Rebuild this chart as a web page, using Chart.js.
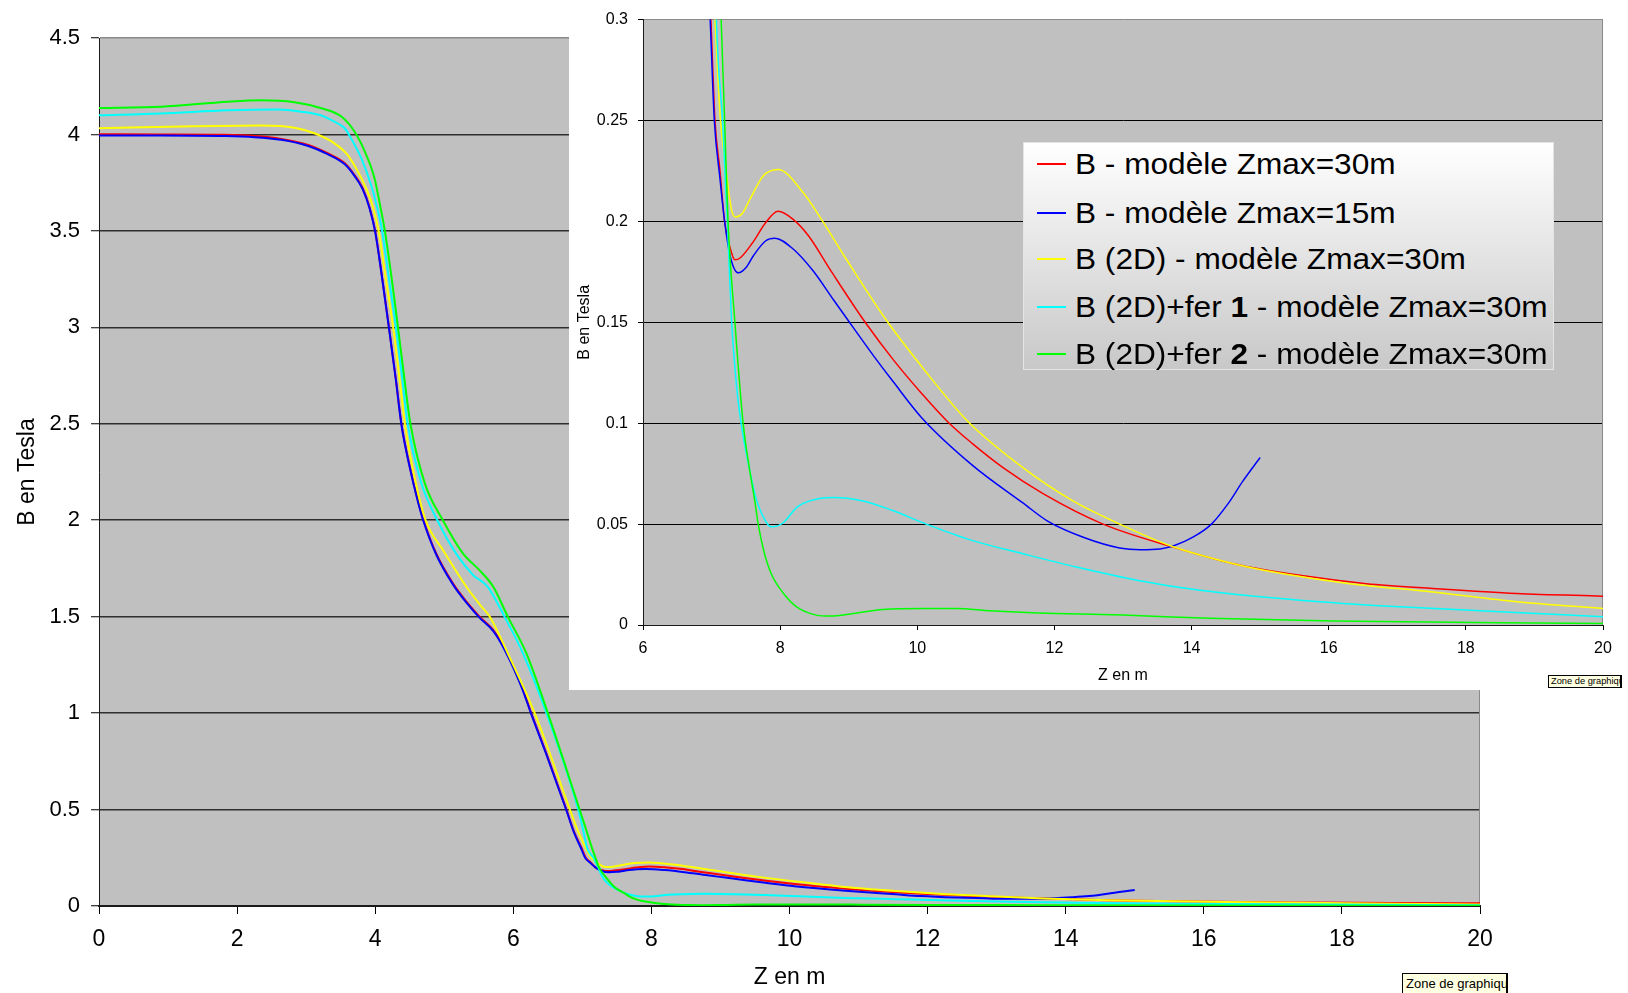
<!DOCTYPE html>
<html lang="fr">
<head>
<meta charset="UTF-8">
<title>B en Tesla</title>
<script src="https://cdn.jsdelivr.net/npm/chart.js@4.4.1/dist/chart.umd.min.js"></script>
<style>
  html, body { margin: 0; padding: 0; background: #fff; }
  body { width: 1628px; height: 993px; position: relative; overflow: hidden; font-family: "Liberation Sans", Arial, sans-serif; }
  #main { position: absolute; left: 0; top: 0; }
  #zoom { position: absolute; left: 569px; top: 0; background: #fff; }
  .legende { position: absolute; left: 1023px; top: 142px; width: 531px; height: 228px; box-sizing: border-box;
             background: linear-gradient(#ffffff, #c8c8c8); border: 1px solid #e4e4e4; }
  .legende .ligne { position: absolute; left: 0; width: 100%; height: 40px; }
  .legende .trait { position: absolute; left: 13px; top: 19px; width: 29px; height: 2px; }
  .legende .texte { position: absolute; left: 51px; top: 0; line-height: 40px; font-size: 29px; color: #000;
                    white-space: nowrap; transform: scaleX(1.09); transform-origin: left center; }
  .bulle { position: absolute; background: #ffffe1; border: 1px solid #000; border-right-width: 2px; color: #000;
           white-space: nowrap; overflow: hidden; box-sizing: border-box; }
</style>
</head>
<body>
<canvas id="main" width="1628" height="993"></canvas>
<canvas id="zoom" width="1059" height="690"></canvas>
<div class="legende" id="legende"></div>
<div class="bulle" style="left:1548px;top:675px;width:74px;height:13px;font-size:9.3px;line-height:11px;padding-left:2px;">Zone de graphique</div>
<div class="bulle" style="left:1402px;top:973px;width:106px;height:21px;font-size:13px;line-height:19px;padding-left:3px;">Zone de graphique</div>

<script>
// Z (m) / B (T) le long de l'axe
const redZ = [0, 0.9, 1.77, 2.25, 2.64, 3.03, 3.31, 3.56, 3.70, 3.82, 3.92, 4.00, 4.10, 4.20, 4.30, 4.38, 4.50, 4.62, 4.70, 4.88,
  5.13, 5.34, 5.51, 5.71, 5.88, 6.12, 6.26, 6.48, 6.77, 6.88, 6.99, 7.05, 7.12, 7.19, 7.27, 7.34, 7.42, 7.61, 7.78, 7.97,
  8.19, 8.41, 8.75, 9.24, 9.66, 10.07, 10.45, 10.80, 11.25, 11.84, 12.71, 13.73, 14.61, 15.58, 16.55, 17.52, 18.74, 20.00];
const redB = [4.001, 4.000, 3.998, 3.992, 3.977, 3.946, 3.903, 3.851, 3.790, 3.720, 3.620, 3.500, 3.260, 3.000, 2.730, 2.500, 2.280, 2.100, 2.000, 1.830,
  1.670, 1.570, 1.500, 1.430, 1.330, 1.140, 1.000, 0.790, 0.500, 0.385, 0.300, 0.250, 0.226, 0.200, 0.187, 0.181, 0.182, 0.190, 0.199, 0.205,
  0.201, 0.193, 0.175, 0.150, 0.131, 0.1145, 0.1005, 0.090, 0.078, 0.065, 0.050, 0.0386, 0.0304, 0.0246, 0.0205, 0.0181, 0.0156, 0.0143];

const blueZ = [0, 0.9, 1.77, 2.25, 2.64, 3.03, 3.31, 3.56, 3.70, 3.82, 3.92, 4.00, 4.10, 4.20, 4.30, 4.38, 4.50, 4.62, 4.70, 4.88,
  5.13, 5.34, 5.51, 5.71, 5.88, 6.12, 6.26, 6.48, 6.77, 6.88, 6.98, 7.04, 7.12, 7.19, 7.27, 7.39, 7.50, 7.61, 7.79, 7.92,
  8.19, 8.48, 8.75, 8.99, 9.36, 9.65, 10.07, 10.81, 11.54, 11.90, 12.42, 12.95, 13.25, 13.54, 13.75, 14.02, 14.29, 14.53, 14.75, 15.00];
const blueB = [3.995, 3.995, 3.992, 3.986, 3.972, 3.940, 3.898, 3.845, 3.785, 3.715, 3.615, 3.495, 3.255, 2.995, 2.725, 2.495, 2.275, 2.095, 1.995, 1.825,
  1.665, 1.565, 1.495, 1.425, 1.325, 1.135, 0.995, 0.785, 0.495, 0.380, 0.300, 0.250, 0.222, 0.200, 0.183, 0.1745, 0.177, 0.183, 0.1904, 0.1917,
  0.1863, 0.1755, 0.1625, 0.151, 0.1335, 0.1205, 0.1025, 0.079, 0.0605, 0.0515, 0.0435, 0.0382, 0.0373, 0.0377, 0.0394, 0.0435, 0.050, 0.060, 0.0714, 0.083];

const yellowZ = [0, 1.38, 2.35, 2.83, 3.12, 3.41, 3.60, 3.75, 3.89, 3.97, 4.05, 4.15, 4.26, 4.35, 4.43, 4.59, 4.73, 5.00, 5.32, 5.54,
  5.66, 5.92, 6.31, 6.82, 6.94, 7.05, 7.13, 7.21, 7.29, 7.35, 7.45, 7.56, 7.75, 7.97, 8.34, 8.63, 8.97, 9.55, 10.09, 10.72,
  11.54, 12.27, 12.90, 13.68, 14.61, 15.34, 16.31, 17.52, 18.74, 20.00];
const yellowB = [4.032, 4.043, 4.046, 4.035, 4.006, 3.954, 3.894, 3.807, 3.703, 3.620, 3.500, 3.260, 3.000, 2.740, 2.500, 2.190, 2.000, 1.835, 1.655, 1.552,
  1.500, 1.310, 1.000, 0.500, 0.385, 0.300, 0.250, 0.226, 0.206, 0.2022, 0.204, 0.211, 0.2224, 0.2257, 0.2141, 0.1995, 0.181, 0.151, 0.127, 0.1015,
  0.078, 0.0615, 0.0508, 0.0394, 0.0304, 0.0254, 0.0205, 0.0164, 0.0115, 0.0082];

const cyanZ = [0, 0.9, 1.87, 2.59, 2.93, 3.22, 3.41, 3.56, 3.65, 3.80, 3.94, 4.02, 4.10, 4.20, 4.30, 4.39, 4.47, 4.67, 4.90, 5.17,
  5.42, 5.63, 5.88, 6.14, 6.48, 6.94, 7.02, 7.07, 7.16, 7.23, 7.29, 7.36, 7.43, 7.56, 7.66, 7.80, 7.87, 7.95, 8.05, 8.24,
  8.43, 8.77, 9.21, 9.65, 10.13, 10.81, 11.54, 12.32, 13.20, 14.12, 15.58, 17.03, 18.49, 20.00];
const cyanB = [4.099, 4.108, 4.125, 4.129, 4.118, 4.098, 4.066, 4.032, 3.980, 3.876, 3.738, 3.634, 3.500, 3.250, 3.000, 2.740, 2.500, 2.190, 2.000, 1.828,
  1.715, 1.655, 1.495, 1.310, 1.000, 0.500, 0.380, 0.300, 0.250, 0.200, 0.152, 0.120, 0.100, 0.076, 0.0615, 0.0508, 0.0487, 0.0490, 0.0508, 0.0582,
  0.0615, 0.0632, 0.0615, 0.0566, 0.050, 0.0418, 0.0353, 0.0287, 0.0222, 0.0172, 0.0123, 0.0090, 0.0066, 0.0041];

const greenZ = [0, 0.9, 1.87, 2.35, 2.83, 3.22, 3.51, 3.70, 3.85, 3.99, 4.07, 4.14, 4.24, 4.33, 4.42, 4.51, 4.72, 4.98, 5.27, 5.51,
  5.71, 5.92, 6.19, 6.50, 6.96, 7.06, 7.14, 7.19, 7.24, 7.34, 7.46, 7.55, 7.63, 7.68, 7.76, 7.87, 8.05, 8.24, 8.53, 8.73,
  9.07, 9.50, 10.09, 10.57, 11.06, 12.03, 13.00, 14.27, 16.07, 18.49, 20.00];
const greenB = [4.137, 4.144, 4.170, 4.177, 4.167, 4.136, 4.093, 4.015, 3.911, 3.773, 3.634, 3.500, 3.250, 3.000, 2.740, 2.500, 2.190, 2.000, 1.828, 1.741,
  1.655, 1.500, 1.310, 1.000, 0.500, 0.390, 0.300, 0.250, 0.200, 0.150, 0.100, 0.078, 0.0615, 0.050, 0.0369, 0.0254, 0.0156, 0.0090, 0.0049, 0.0044,
  0.0057, 0.0077, 0.0082, 0.0082, 0.0071, 0.0057, 0.0049, 0.0033, 0.0020, 0.0011, 0.0008];

const legendLabels = [
  'B - modèle Zmax=30m',
  'B - modèle Zmax=15m',
  'B (2D) - modèle Zmax=30m',
  'B (2D)+fer <b>1</b> - modèle Zmax=30m',
  'B (2D)+fer <b>2</b> - modèle Zmax=30m'
];

// graduations
const mainZTicks = [0, 2, 4, 6, 8, 10, 12, 14, 16, 18, 20];
const mainBTicks = [0, 0.5, 1, 1.5, 2, 2.5, 3, 3.5, 4, 4.5];
const zoomZTicks = [6, 8, 10, 12, 14, 16, 18, 20];
const zoomBTicks = [0, 0.05, 0.1, 0.15, 0.2, 0.25, 0.3];

const series = [
  { z: redZ, b: redB, color: '#ff0000' },
  { z: blueZ, b: blueB, color: '#0000ff' },
  { z: yellowZ, b: yellowB, color: '#ffff00' },
  { z: cyanZ, b: cyanB, color: '#00ffff' },
  { z: greenZ, b: greenB, color: '#00ff00' }
];

Chart.defaults.font.family = '"Liberation Sans", Arial, sans-serif';
Chart.defaults.color = '#000';

// fond gris de la zone de traçage + bord droit
const plotArea = {
  id: 'plotArea',
  beforeDraw(chart) {
    const { ctx, chartArea: a } = chart;
    ctx.save();
    ctx.fillStyle = '#c0c0c0';
    ctx.fillRect(a.left, a.top, a.right - a.left, a.bottom - a.top);
    ctx.restore();
  },
  beforeDatasetsDraw(chart) {
    const { ctx, chartArea: a } = chart;
    ctx.save();
    ctx.strokeStyle = '#8a8a8a';
    ctx.lineWidth = 1;
    ctx.beginPath();
    ctx.moveTo(Math.round(a.right) - 0.5, a.top);
    ctx.lineTo(Math.round(a.right) - 0.5, a.bottom);
    ctx.stroke();
    ctx.restore();
  }
};

function datasets(width) {
  return series.map((s, i) => ({
    label: legendLabels[i].replace(/<\/?b>/g, ''),
    data: s.z.map((z, k) => ({ x: z, y: s.b[k] })),
    borderColor: s.color,
    borderWidth: width,
    pointRadius: 0,
    fill: false,
    cubicInterpolationMode: 'monotone',
    order: series.length - i
  }));
}

function fixTicks(values) {
  return scale => { scale.ticks = values.map(v => ({ value: v })); };
}

function options(cfg) {
  return {
    responsive: false,
    animation: false,
    devicePixelRatio: 1,
    layout: { padding: cfg.padding },
    plugins: { legend: { display: false }, tooltip: { enabled: false } },
    scales: {
      x: {
        type: 'linear', min: cfg.zTicks[0], max: cfg.zTicks[cfg.zTicks.length - 1],
        afterBuildTicks: fixTicks(cfg.zTicks),
        afterFit: s => { s.height = cfg.xHeight; },
        ticks: { font: { size: cfg.xFont }, padding: cfg.xPad, maxRotation: 0, autoSkip: false, color: '#000' },
        grid: { drawOnChartArea: false, tickLength: cfg.tick, tickColor: '#000', tickWidth: 1 },
        border: { color: '#1a1a1a', width: cfg.xBorder },
        title: { display: true, text: 'Z en m', font: { size: cfg.titleFont }, padding: { top: 0, bottom: cfg.xTitlePad } }
      },
      y: {
        type: 'linear', min: 0, max: cfg.bTicks[cfg.bTicks.length - 1],
        afterBuildTicks: fixTicks(cfg.bTicks),
        afterFit: s => { s.width = cfg.yWidth; },
        ticks: { font: { size: cfg.yFont }, padding: cfg.yPad, color: '#000',
                 callback: v => String(Math.round(v * 100) / 100) },
        grid: {
          color: c => (c.tick && c.tick.value === cfg.bTicks[cfg.bTicks.length - 1]) ? '#8a8a8a' : cfg.gridColor,
          lineWidth: cfg.gridWidth, tickLength: cfg.tick, tickColor: '#000', tickWidth: 1
        },
        border: { color: '#1a1a1a', width: 1 },
        title: { display: true, text: 'B en Tesla', font: { size: cfg.titleFont }, padding: { top: cfg.yTitlePad, bottom: 0 } }
      }
    }
  };
}

new Chart(document.getElementById('main'), {
  type: 'line',
  data: { datasets: datasets(2) },
  options: options({
    padding: { top: 38, right: 148, left: 0, bottom: 0 },
    zTicks: mainZTicks, bTicks: mainBTicks,
    xHeight: 87, yWidth: 99, tick: 8,
    xFont: 23, yFont: 22, titleFont: 23,
    xPad: 12, yPad: 11, xTitlePad: 2, yTitlePad: 14,
    xBorder: 2, gridColor: '#2e2e2e', gridWidth: 1.5
  }),
  plugins: [plotArea]
});

new Chart(document.getElementById('zoom'), {
  type: 'line',
  data: { datasets: datasets(1.5) },
  options: options({
    padding: { top: 15, right: 25, left: 0, bottom: 0 },
    zTicks: zoomZTicks, bTicks: zoomBTicks,
    xHeight: 65, yWidth: 74, tick: 5,
    xFont: 16, yFont: 16, titleFont: 16,
    xPad: 9, yPad: 10, xTitlePad: 5, yTitlePad: 6,
    xBorder: 1, gridColor: '#000', gridWidth: 1
  }),
  plugins: [plotArea]
});

// légende (chiffres 1 et 2 en gras)
const legende = document.getElementById('legende');
const rowCenters = [21, 70, 116, 164, 211];
legendLabels.forEach((txt, i) => {
  const row = document.createElement('div');
  row.className = 'ligne';
  row.style.top = (rowCenters[i] - 20) + 'px';
  row.innerHTML = '<div class="trait" style="background:' + series[i].color + '"></div><div class="texte">' + txt + '</div>';
  legende.appendChild(row);
});
</script>
</body>
</html>
